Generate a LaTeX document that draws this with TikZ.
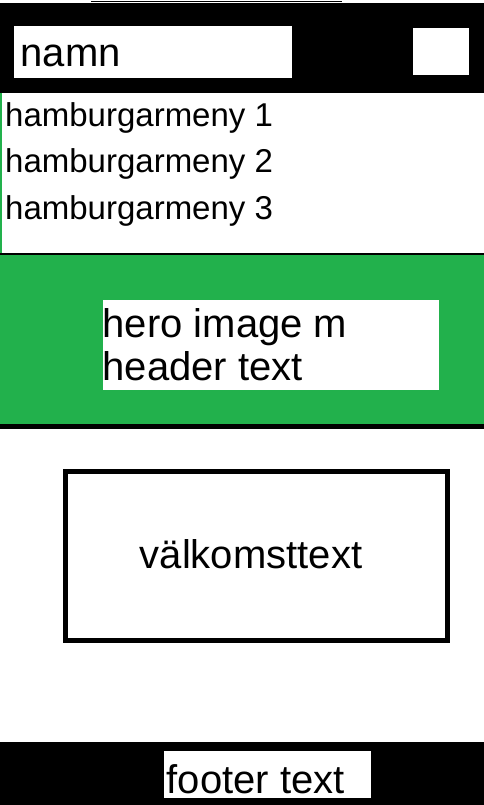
\documentclass[tikz,border=0pt]{standalone}
\usepackage{fontspec}
\setmainfont{Liberation Sans}
\definecolor{heltgron}{RGB}{34,177,76}

\begin{document}
\begin{tikzpicture}[x=1pt,y=-1pt,
  txt/.style={inner sep=0pt, font=\fontsize{#1}{#1}\selectfont}]

%Bakgrunden (fixar aven bildens storlek)
\path[use as bounding box, fill=white] (0,0) rectangle (484,805);

%Toppen: linjen, den svarta listen, namnrutan och knappen
\draw[line width=1.5pt] (91,1.5) -- (342,1.5);
\fill[black] (0,3) rectangle (484,93);
\fill[white] (14,26) rectangle (292,78);
\fill[white] (413,28) rectangle (469,75);
\node[txt=40, anchor=base west] (namn) at (20.5,67) {namn};

%Hamburgarmenyn
\draw[heltgron, line width=1.5pt] (0.75,93) -- (0.75,254);
\foreach \i/\y in {1/127,2/173,3/219}
  \node[txt=33, anchor=base west] (meny\i) at (5,\y) {hamburgarmeny \i};

%Hero-bilden med rubriktext
\fill[heltgron] (0,254) rectangle (484,424);
\draw[line width=1.5pt] (0,254) -- (484,254);
\fill[black] (0,424) rectangle (484,429);
\fill[white] (103,300) rectangle (439,390);
\node[txt=40, anchor=base west] (hero) at (102.5,337) {hero image m};
\node[txt=40, anchor=base west] (header) at (102.5,380) {header text};

%Valkomstrutan
\draw[line width=5pt] (65.5,471.5) rectangle (447.5,640.5);
\node[txt=40, anchor=base] (valkomst) at (251,568) {välkomsttext};

%Sidfoten
\fill[black] (0,742) rectangle (484,805);
\fill[white] (164,751) rectangle (371,798);
\node[txt=40, anchor=base west] (footer) at (166.5,793) {footer text};

\end{tikzpicture}
\end{document}
